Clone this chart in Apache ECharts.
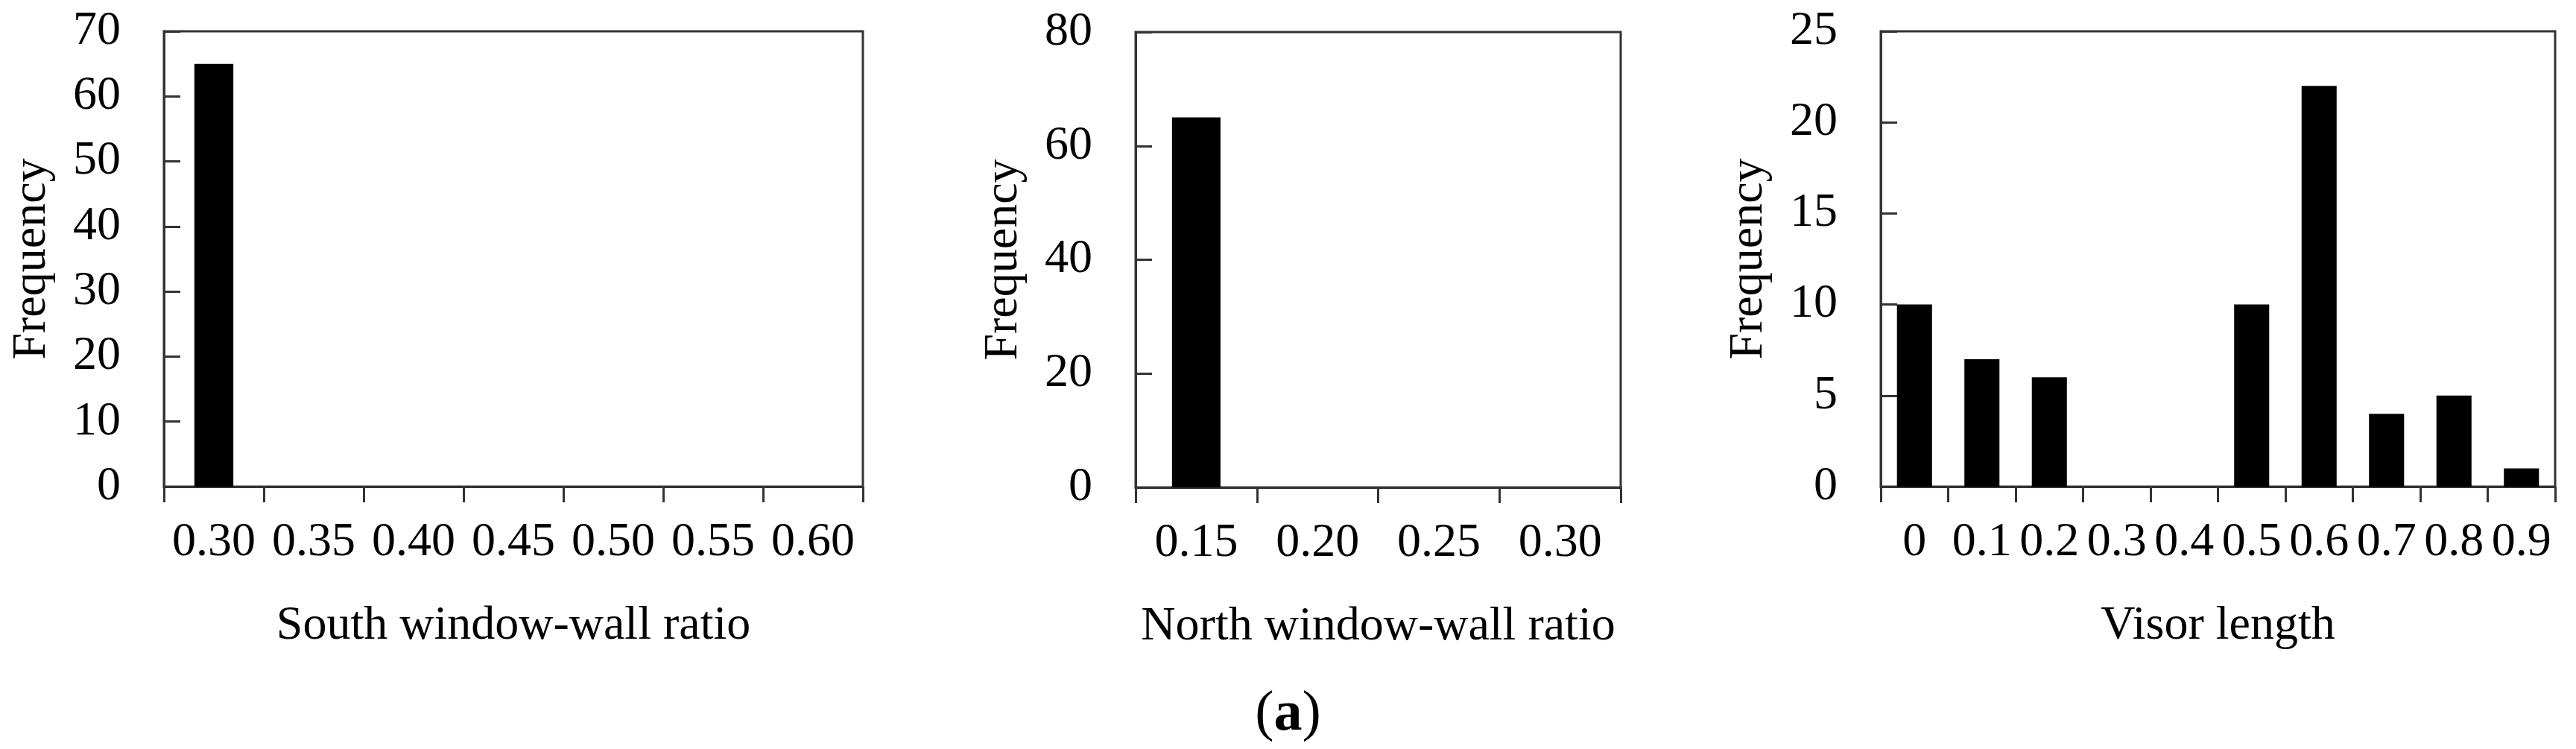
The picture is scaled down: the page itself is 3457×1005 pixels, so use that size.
<!DOCTYPE html>
<html>
<head>
<meta charset="utf-8">
<style>
html,body{margin:0;padding:0;background:#fff;}
#c{width:3457px;height:1005px;}
</style>
<script src="https://cdn.jsdelivr.net/npm/echarts@6/dist/echarts.min.js"></script>
</head>
<body>
<div id="c"></div>
<script>
const southCats = ['0.30','0.35','0.40','0.45','0.50','0.55','0.60'];
const southFreq = [65,0,0,0,0,0,0];
const northCats = ['0.15','0.20','0.25','0.30'];
const northFreq = [65,0,0,0];
const visorCats = ['0','0.1','0.2','0.3','0.4','0.5','0.6','0.7','0.8','0.9'];
const visorFreq = [10,7,6,0,0,10,22,4,5,1];
const xTitles = ['South window-wall ratio','North window-wall ratio','Visor length'];
const yTitle = 'Frequency';
const yMax = [70,80,25];
const yStep = [10,20,5];

const FONT = 'Liberation Serif';
const FS = 64;
const LINE = '#333';

const chart = echarts.init(document.getElementById('c'), null, {renderer:'canvas'});

const grids = [
  {left:220, top:42, width:938, height:611},
  {left:1524, top:43, width:651, height:611},
  {left:2524, top:42, width:905, height:611}
];
const cats = [southCats, northCats, visorCats];
const vals = [southFreq, northFreq, visorFreq];
const barW = ['39%','40%','52%'];

const option = {
  backgroundColor:'#fff',
  animation:false,
  title:{
    text:'{p|(}{b|a}{p|)}',
    left:'center',
    top:916,
    textStyle:{
      fontWeight:'normal',
      rich:{
        p:{fontFamily:FONT,fontSize:76,fontWeight:'normal',color:'#000'},
        b:{fontFamily:FONT,fontSize:76,fontWeight:'bold',color:'#000'}
      }
    }
  },
  grid: grids.map(g => Object.assign({show:true, borderColor:LINE, borderWidth:3, backgroundColor:'transparent'}, g)),
  xAxis: cats.map((c,i) => ({
    type:'category',
    gridIndex:i,
    data:c,
    name:xTitles[i],
    nameLocation:'middle',
    nameGap:155,
    nameTextStyle:{fontFamily:FONT,fontSize:FS,color:'#000'},
    axisLine:{show:true,lineStyle:{color:LINE,width:3}},
    axisTick:{show:true,length:21,lineStyle:{color:LINE,width:3}},
    axisLabel:{fontFamily:FONT,fontSize:FS,color:'#000',margin:43,interval:0},
    splitLine:{show:false}
  })),
  yAxis: cats.map((c,i) => ({
    type:'value',
    gridIndex:i,
    min:0,
    max:yMax[i],
    interval:yStep[i],
    name:yTitle,
    nameLocation:'middle',
    nameGap:145,
    nameTextStyle:{fontFamily:FONT,fontSize:FS,color:'#000'},
    axisLine:{show:true,lineStyle:{color:LINE,width:3}},
    axisTick:{show:true,inside:true,length:22,lineStyle:{color:LINE,width:3}},
    axisLabel:{fontFamily:FONT,fontSize:FS,color:'#000',margin:58},
    splitLine:{show:false}
  })),
  series: vals.map((v,i) => ({
    type:'bar',
    xAxisIndex:i,
    yAxisIndex:i,
    data:v,
    barWidth:barW[i],
    itemStyle:{color:'#000'},
    silent:true
  }))
};
chart.setOption(option);
</script>
</body>
</html>
